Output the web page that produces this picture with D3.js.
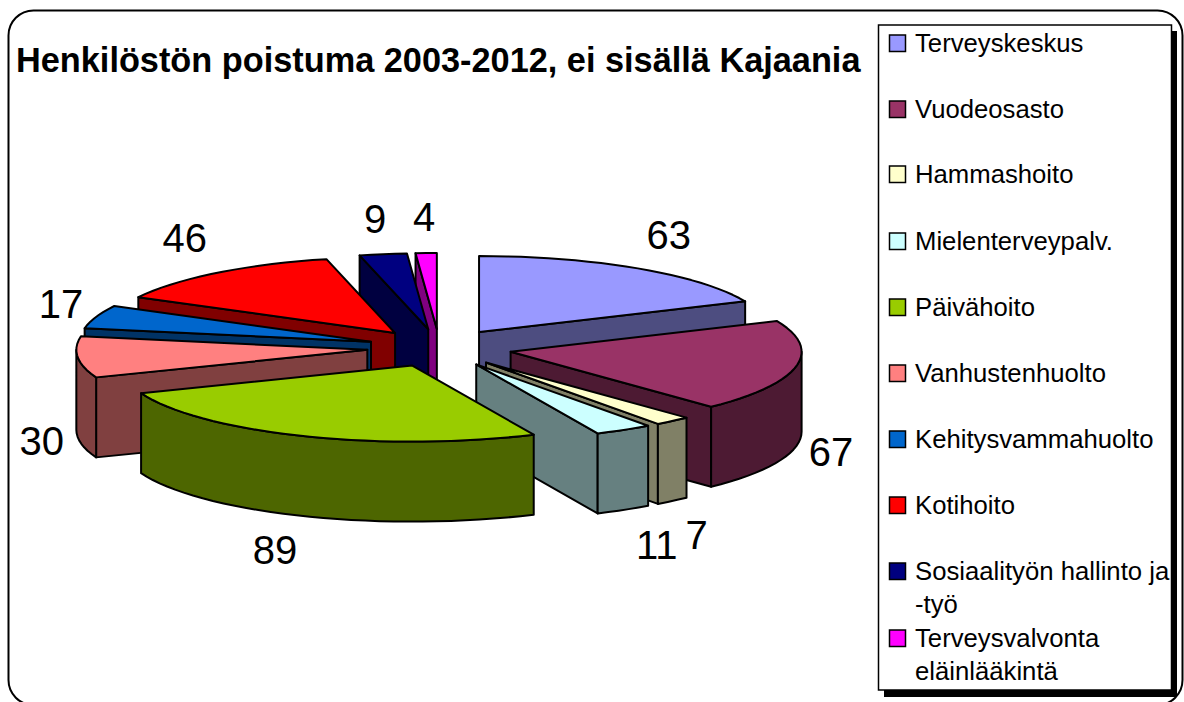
<!DOCTYPE html>
<html><head><meta charset="utf-8">
<script src="https://cdn.jsdelivr.net/npm/d3@7/dist/d3.min.js"></script>
<style>html,body{margin:0;padding:0;background:#fff;overflow:hidden}svg{display:block}text{font-family:"Liberation Sans",Arial,sans-serif;fill:#000}</style>
</head><body><svg id="c" width="1184" height="702"></svg>
<script>
const chartTitle = "Henkilöstön poistuma 2003-2012, ei sisällä Kajaania";
const categories = ["Terveyskeskus","Vuodeosasto","Hammashoito","Mielenterveypalv.","Päivähoito","Vanhustenhuolto","Kehitysvammahuolto","Kotihoito","Sosiaalityön hallinto ja -työ","Terveysvalvonta eläinlääkintä"];
const values = [63,67,7,11,89,30,17,46,9,4];
const topColors = ["#9999FF","#993366","#FFFFCC","#CCFFFF","#99CC00","#FF8080","#0066CC","#FF0000","#000080","#FF00FF"];
const wallColors = ["#4D4D80","#4D1A33","#808066","#668080","#4D6600","#804040","#003366","#800000","#000040","#800080"];
const legendLines = [["Terveyskeskus"],["Vuodeosasto"],["Hammashoito"],["Mielenterveypalv."],["Päivähoito"],["Vanhustenhuolto"],["Kehitysvammahuolto"],["Kotihoito"],["Sosiaalityön hallinto ja","-työ"],["Terveysvalvonta","eläinlääkintä"]];
const legendRowY = [43,109,174,241,307,373,439,505,571,638];
const paintOrder = [9,8,7,6,5,0,1,2,3,4];
const labelNudge = [[31,-34],[35,85],[24,114],[33,115],[-28,114],[-36,83],[-35,-13],[-32,-35],[-8,-36],[-2,-36]];

const svg = d3.select("#c");
const cx=439.5, cy=348, rx=291, ry=76, depth=80, explodeX=72.5, explodeY=19;
const arcs = d3.pie().sort(null).value(d=>d).startAngle(0).endAngle(2*Math.PI)(values);
const xOff = d3.scaleLinear().domain([-1,1]).range([-rx,rx]);
const yOff = d3.scaleLinear().domain([-1,1]).range([ry,-ry]);

// outer frame
svg.append("rect").attr("x",8.5).attr("y",10.5).attr("width",1174).attr("height",694.5).attr("rx",25).attr("ry",25)
  .attr("fill","#fff").attr("stroke","#000").attr("stroke-width",2);

svg.append("text").attr("x",16).attr("y",72).attr("font-size",34.3).attr("font-weight","bold").text(chartTitle);

const line = d3.line();
const g = svg.append("g").attr("stroke","#000").attr("stroke-width",2).attr("stroke-linejoin","round");

function arcPts(ax,ay,a0,a1,dy){
  const n=Math.max(2,Math.ceil((a1-a0)/0.05)), pts=[];
  for(let i=0;i<=n;i++){const t=a0+(a1-a0)*i/n;pts.push([ax+xOff(Math.sin(t)),ay+yOff(Math.cos(t))+dy]);}
  return pts;
}
paintOrder.forEach(i=>{
  const a=arcs[i], mid=(a.startAngle+a.endAngle)/2;
  const ax=cx+explodeX*Math.sin(mid), ay=cy-explodeY*Math.cos(mid);
  const wall=wallColors[i];
  const radial=t=>{
    const o=[ax+xOff(Math.sin(t)),ay+yOff(Math.cos(t))];
    g.append("path").attr("fill",wall).attr("d",line([[ax,ay],o,[o[0],o[1]+depth],[ax,ay+depth]])+"Z");
  };
  if(Math.sin(a.startAngle)<-1e-6) radial(a.startAngle);
  if(Math.sin(a.endAngle)>1e-6) radial(a.endAngle);
  const f0=Math.max(a.startAngle,Math.PI/2), f1=Math.min(a.endAngle,3*Math.PI/2);
  if(f1>f0){
    const up=arcPts(ax,ay,f0,f1,0), dn=arcPts(ax,ay,f0,f1,depth).reverse();
    g.append("path").attr("fill",wall).attr("d",line(up.concat(dn))+"Z");
  }
  g.append("path").attr("fill",topColors[i]).attr("d",line([[ax,ay]].concat(arcPts(ax,ay,a.startAngle,a.endAngle,0)))+"Z");
});

// value labels
arcs.forEach((a,i)=>{
  const mid=(a.startAngle+a.endAngle)/2;
  svg.append("text").attr("text-anchor","middle").attr("font-size",40).attr("dy","0.36em")
    .attr("x",cx+(rx+explodeX)*Math.sin(mid)+labelNudge[i][0])
    .attr("y",cy-(ry+explodeY)*Math.cos(mid)+labelNudge[i][1]).text(values[i]);
});

// legend
svg.append("rect").attr("x",884).attr("y",31).attr("width",293).attr("height",666).attr("fill","#000");
svg.append("rect").attr("x",878.5).attr("y",25).attr("width",293).attr("height",665).attr("fill","#fff").attr("stroke","#000").attr("stroke-width",1.5);
categories.forEach((c,i)=>{
  const y=legendRowY[i];
  svg.append("rect").attr("x",889.5).attr("y",y-8).attr("width",16).attr("height",16.5).attr("fill",topColors[i]).attr("stroke","#000").attr("stroke-width",1.5);
  legendLines[i].forEach((t,j)=>{
    svg.append("text").attr("x",915).attr("y",y+j*33).attr("dy","0.36em").attr("font-size",25.7).text(t);
  });
});
</script></body></html>
